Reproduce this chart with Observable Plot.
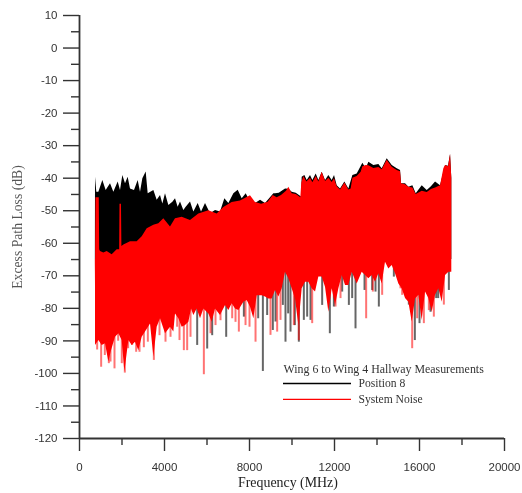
<!DOCTYPE html>
<html><head><meta charset="utf-8">
<script src="https://cdn.jsdelivr.net/npm/d3@7"></script>
<script src="https://cdn.jsdelivr.net/npm/@observablehq/plot@0.6"></script>
<style>html,body{margin:0;background:#fff}svg{display:block;filter:blur(.45px)}</style>
</head><body><div id="c"></div>
<script>
const blackTopF=[745,753,815,910,1098,1255,1459,1616,1820,1930,2039,2165,2290,2400,2588,2761,2871,2981,3138,3232,3499,3655,3812,3922,4047,4205,4393,4518,4643,4753,4910,5020,5224,5381,5585,5742,5930,6166,6401,6636,6840,7028,7264,7468,7656,7844,8001,8284,8519,8754,9147,9224,9400,9695,9852,10008,10200,10448,10479,10605,10715,10871,10981,11138,11264,11421,11578,11734,11891,12001,12127,12284,12488,12676,12864,13068,13335,13492,13617,13852,14088,14245,14480,14716,14951,15108,15155,15343,15500,15688,15845,16128,16363,16560,16755,16990,17226,17364,17461,17520];
const blackTop=[-70,-39.7,-44.3,-44.3,-40.7,-43.8,-41.7,-44.3,-41.2,-43.8,-39.2,-41.7,-39.7,-43.3,-43.8,-40.7,-44.3,-40.2,-38.1,-44.8,-43.8,-46.8,-45.3,-47.9,-44.8,-48.4,-47.4,-46.3,-48.9,-47.3,-49.9,-48.9,-47.3,-50.4,-47.8,-50.4,-47.8,-50.9,-49.9,-50.4,-46.3,-47.8,-44.8,-43.7,-46.3,-44.8,-46.8,-47.8,-46.8,-47.8,-44.8,-44.8,-44.6,-43.3,-43.4,-44.3,-44.6,-45.8,-39.7,-39.2,-40.7,-39.2,-40.7,-38.7,-40.7,-38.2,-40.7,-39.2,-40.7,-39.2,-42.3,-43.3,-41.2,-43.3,-39.2,-38.7,-35.4,-37.1,-35.1,-36.1,-35.8,-37.1,-34,-36.1,-37.1,-37.6,-41.7,-41.7,-42.8,-42.3,-44.8,-42.3,-43.8,-42.6,-41.2,-42.3,-36.1,-36.3,-32.7,-40];
const redTopF=[745,775,930,950,988,1145,1302,1537,1773,1890,1905,1975,1995,2087,2400,2714,2950,3185,3498,3733,3968,4282,4517,4831,5223,5615,6086,6478,6792,7183,7576,8046,8282,8570,8878,9114,9300,9506,9741,9852,10008,10200,10415,10462,10556,10700,10871,10981,11138,11264,11419,11578,11734,11891,12001,12127,12284,12488,12676,12783,12864,13068,13254,13335,13492,13617,13852,14088,14245,14480,14716,14951,15108,15155,15343,15500,15688,15845,16128,16363,16560,16755,16990,17145,17226,17364,17461,17520];
const redTop=[-74,-46,-46,-62,-62.5,-63,-62.5,-63.5,-62,-62,-48,-48,-61,-60.5,-59.5,-59.5,-58,-55.5,-54.5,-54,-52.5,-55,-52.5,-52,-53,-51,-50,-51,-49,-47.5,-47,-45.4,-47.5,-48,-47.4,-45.3,-46,-45.3,-44,-42.8,-44.8,-45,-46,-41.5,-39.5,-41.2,-40,-41.4,-39.5,-41.2,-38.2,-41,-40,-41.3,-40.2,-42.6,-43.6,-41.5,-43.6,-43.3,-40,-39.5,-38.2,-36.5,-36.1,-36.2,-37,-36.7,-37.4,-34.5,-36.6,-37.6,-38,-41.7,-42,-42.8,-43,-45,-44,-44.4,-43.5,-43,-42.3,-37.1,-36.1,-36.5,-32.7,-40];
const floorF=[753,910,1067,1223,1380,1506,1694,1851,2008,2133,2322,2479,2636,2792,2949,3106,3342,3499,3655,3812,4048,4283,4440,4518,4675,4832,4989,5146,5271,5381,5538,5695,5852,6087,6244,6401,6636,6872,7028,7185,7342,7499,7734,7891,8048,8205,8362,8597,8753,8910,9067,9224,9381,9538,9694,9851,10008,10165,10322,10479,10636,10793,10950,11107,11263,11420,11577,11734,11891,12048,12205,12362,12519,12676,12832,13068,13303,13459,13616,13773,13930,14087,14243,14400,14557,14714,14871,15028,15185,15342,15499,15656,15813,15969,16126,16283,16440,16597,16754,16911,17068,17225,17382,17520];
const floor=[-91.4,-89.9,-91.4,-90.9,-96.5,-93,-88.9,-87.8,-89.9,-99.6,-89.9,-91.4,-90.4,-93,-88.9,-87.3,-84.8,-95,-85.8,-83.2,-87.8,-85.8,-87.3,-81.7,-83.2,-85.8,-85.3,-84.3,-80.2,-82.2,-80.2,-83.2,-80.2,-81.7,-84.3,-80.2,-82.2,-79.1,-80.7,-78.6,-80.2,-80.7,-78.1,-77.6,-79.7,-83.2,-76.1,-76.1,-76.5,-77.1,-77.1,-74.5,-76.5,-74,-68.9,-70.9,-74,-77.1,-85.3,-74,-72,-72,-74,-75,-70.4,-70.4,-73.5,-81.2,-74,-79.1,-74,-69.9,-73,-73,-68.9,-72.5,-68.9,-69.9,-70.9,-69.9,-72,-69.4,-72.5,-65.8,-67.9,-66.8,-69.4,-72.5,-74,-77,-78.1,-84.2,-77.1,-76,-83.7,-75,-77,-81.2,-76,-74,-78.1,-69.9,-68.9,-68.9];
const redSpikeF=[831,1019,1192,1380,1459,1647,1820,1990,2133,2290,2478,2667,2824,3028,3216,3499,3765,4047,4283,4596,4706,4910,5067,5224,5852,6166,6401,6636,7185,7342,7499,7813,8001,8284,8988,9302,9459,10087,10322,10950,12048,12283,13490,13804,14243,15106,15185,15656,15891,16205,16440,16675,17146];
const redSpike=[-92.8,-98.1,-94.5,-97,-96.5,-98.6,-90.1,-97,-99.9,-92.4,-91.4,-93.5,-93.5,-92.1,-90.4,-96,-88.4,-90.4,-88.9,-85.8,-89.9,-93,-93,-88.9,-100.4,-87.8,-85.3,-83.8,-83.2,-84.3,-87.3,-85.3,-85.8,-90.4,-88.3,-87.3,-83.7,-85.3,-89.9,-84.7,-79.6,-77,-83.2,-75,-76,-74,-76,-92.4,-83.2,-84.7,-80.7,-82.7,-79];
const blackSpikeF=[5538,6009,6244,6903,7735,8409,8629,8831,9098,9224,9569,9694,9820,9930,10134,10322,10557,10714,10871,11420,11781,11970,12362,12676,12832,12989,13413,13773,13930,14087,14793,15498,15781,16001,16519,16785,16880,17382];
const blackSpike=[-91.4,-92.5,-88.4,-88.9,-82.7,-83.2,-99.4,-82.2,-86.8,-84.2,-79.1,-90.4,-81.7,-87.3,-85.3,-90.4,-83.7,-82.7,-83.7,-79.1,-87.8,-79.6,-75,-79.1,-77,-86.3,-74.5,-74.5,-75,-79.6,-70.4,-79,-89.9,-84.7,-81.2,-77,-77,-74.5];
const xMajor=[0,4000,8000,12000,16000,20000];
const xMinor=[2000,6000,10000,14000,18000];
const yMajor=[10,0,-10,-20,-30,-40,-50,-60,-70,-80,-90,-100,-110,-120];
const yMinor=[5,-5,-15,-25,-35,-45,-55,-65,-75,-85,-95,-105,-115];
const seriesNames=["Position 8","System Noise"];
const seriesColors=["#000000","#ff0000"];
const legendTitle="Wing 6 to Wing 4 Hallway Measurements";
const split=-65;
const zip=(f,v)=>f.map((x,i)=>({x,y:v[i],s:split}));
const serif="'Liberation Serif',serif";
const sans="'Liberation Sans',sans-serif";
const ann=(t,x,y,o)=>Plot.text([{t,x,y}],{x:"x",y:"y",text:"t",fontFamily:serif,...o});
const plot=Plot.plot({
  width:522,height:493,marginLeft:79,marginRight:18,marginTop:15,marginBottom:55,
  style:{background:"#fff",fontFamily:serif},
  x:{type:"linear",domain:[0,20000],axis:null},
  y:{type:"linear",domain:[-120,10],axis:null},
  marks:[
    Plot.areaY(zip(blackTopF,blackTop),{x:"x",y1:"s",y2:"y",fill:"#000"}),
    Plot.ruleX(zip(blackSpikeF,blackSpike),{x:"x",y1:"s",y2:"y",stroke:"#000",strokeWidth:2,strokeOpacity:.6}),
    Plot.ruleX(zip(redSpikeF,redSpike),{x:"x",y1:"s",y2:"y",stroke:"#f00",strokeWidth:2,strokeOpacity:.55}),
    Plot.areaY(zip(floorF,floor),{x:"x",y1:"y",y2:"s",fill:"#f00"}),
    Plot.areaY(zip(redTopF,redTop),{x:"x",y1:"s",y2:"y",fill:"#f00"}),
    Plot.axisX({ticks:xMajor,tickSize:13,tickPadding:11,tickFormat:d=>String(d),fontSize:11.5,fontFamily:sans,label:null,stroke:"#333",strokeWidth:1.4,color:"#333"}),
    Plot.axisX({ticks:xMinor,tickSize:7,tickFormat:()=>"",label:null,stroke:"#333",strokeWidth:1.4}),
    Plot.axisY({ticks:yMajor,tickSize:16,tickPadding:6,tickFormat:d=>String(d),fontSize:11.5,fontFamily:sans,label:null,stroke:"#333",strokeWidth:1.4,color:"#333"}),
    Plot.axisY({ticks:yMinor,tickSize:8,tickFormat:()=>"",label:null,stroke:"#333",strokeWidth:1.4}),
    Plot.ruleX([0],{stroke:"#333",strokeWidth:1.8}),
    Plot.ruleY([-120],{stroke:"#333",strokeWidth:1.8}),
    ann("Frequency (MHz)",9810,-133.5,{fontSize:13.9,fill:"#222"}),
    ann("Excess Path Loss (dB)",-2900,-55,{rotate:-90,fontSize:13.7,fill:"#555"}),
    ann(legendTitle,9600,-98.8,{textAnchor:"start",fontSize:11.9,fill:"#333"}),
    Plot.ruleY([-103.1],{x1:9600,x2:12800,stroke:seriesColors[0],strokeWidth:1.3}),
    Plot.ruleY([-108],{x1:9600,x2:12800,stroke:seriesColors[1],strokeWidth:1.3}),
    ann(seriesNames[0],13130,-103.1,{textAnchor:"start",fontSize:11.6,fill:"#333"}),
    ann(seriesNames[1],13130,-108,{textAnchor:"start",fontSize:11.6,fill:"#333"})
  ]
});
document.getElementById("c").append(plot);
</script></body></html>
